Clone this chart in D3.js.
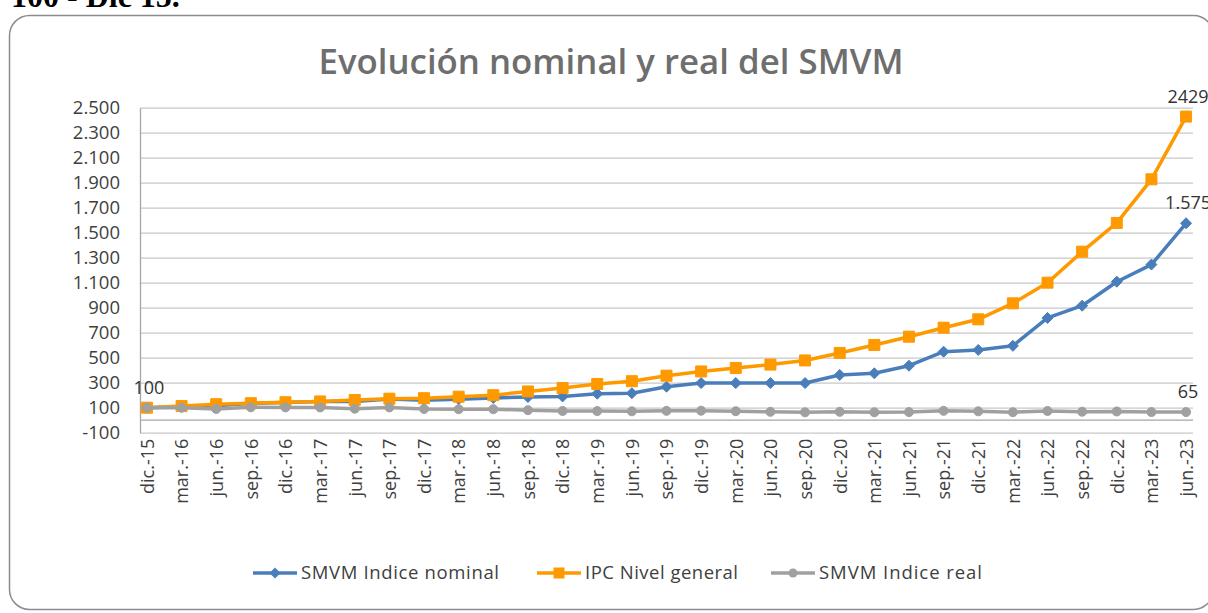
<!DOCTYPE html>
<html>
<head>
<meta charset="utf-8">
<script src="https://cdn.jsdelivr.net/npm/d3@7"></script>
<style>
  body { margin: 0; background: #fff; }
  svg { display: block; }
</style>
</head>
<body>
<script>
// Datos (base dic.-15 = 100)
var categories = ["dic.-15","mar.-16","jun.-16","sep.-16","dic.-16","mar.-17","jun.-17","sep.-17","dic.-17",
  "mar.-18","jun.-18","sep.-18","dic.-18","mar.-19","jun.-19","sep.-19","dic.-19","mar.-20","jun.-20",
  "sep.-20","dic.-20","mar.-21","jun.-21","sep.-21","dic.-21","mar.-22","jun.-22","sep.-22","dic.-22",
  "mar.-23","jun.-23"];

var smvmNominal = [100, 108, 115, 135, 142, 150, 150, 170, 160, 168, 178, 185, 190, 212, 216, 268, 297,
  297, 297, 297, 362, 375, 436, 548, 562, 595, 818, 916, 1108, 1245, 1575];

var ipcGeneral = [100, 113, 128, 136, 144, 150, 162, 172, 176, 188, 200, 230, 257, 290, 312, 356, 390,
  418, 445, 478, 538, 602, 668, 740, 807, 935, 1100, 1348, 1578, 1927, 2429];

var smvmReal = [100, 100, 90, 103, 102, 102, 92, 102, 90, 88, 88, 80, 74, 73, 71, 75, 76,
  72, 67, 63, 67, 63, 65, 75, 71, 64, 74, 68, 70, 65, 65];

var yTicks = [-100, 100, 300, 500, 700, 900, 1100, 1300, 1500, 1700, 1900, 2100, 2300, 2500];

var seriesNames = ["SMVM  Indice nominal", "IPC Nivel general", "SMVM  Indice real"];

// etiquetas de datos: [serie, indice, texto]
var dataLabels = [[1, 0, "100"], [1, 30, "2429"], [0, 30, "1.575"], [2, 30, "65"]];

var series = [
  {name: seriesNames[0], values: smvmNominal, color: "#4a7ebb", marker: "diamond"},
  {name: seriesNames[1], values: ipcGeneral, color: "#ff9900", marker: "square"},
  {name: seriesNames[2], values: smvmReal, color: "#a0a0a0", marker: "circle"}
];

var W = 1208, H = 613;
var plot = {left: 140, right: 1193, top: 107.7, bottom: 432.7};
var fontFam = "'Open Sans', 'Noto Sans', sans-serif";

var svg = d3.select("body").append("svg")
    .attr("width", W)
    .attr("height", H);

// texto de arriba (cortado)
svg.append("text")
    .attr("x", 11).attr("y", 7)
    .attr("font-family", "'Liberation Serif', 'DejaVu Serif', serif")
    .attr("font-weight", "bold")
    .attr("font-size", 32)
    .attr("fill", "#000")
    .text("100 - Dic 15.");

// marco
svg.append("rect")
    .attr("x", 9.5).attr("y", 15.5)
    .attr("width", 1204).attr("height", 594)
    .attr("rx", 20).attr("ry", 20)
    .attr("fill", "none")
    .attr("stroke", "#8c8c8c")
    .attr("stroke-width", 1.5);

// titulo
svg.append("text")
    .attr("x", 611).attr("y", 73.5)
    .attr("text-anchor", "middle")
    .attr("font-family", fontFam)
    .attr("font-weight", 600)
    .attr("font-size", 34)
    .attr("fill", "#6e6e6e")
    .attr("textLength", 585)
    .attr("lengthAdjust", "spacingAndGlyphs")
    .text("Evolución nominal y real del SMVM");

var x = d3.scalePoint()
    .domain(categories)
    .range([plot.left, plot.right])
    .padding(0.2);

var y = d3.scaleLinear()
    .domain([-100, 2500])
    .range([plot.bottom, plot.top]);

var locale = d3.formatLocale({decimal: ",", thousands: ".", grouping: [3], currency: ["$", ""], minus: "-"});
var fmt = locale.format(",d");

// grilla
svg.append("g")
    .attr("class", "grid")
    .attr("transform", "translate(" + plot.left + ",0)")
    .call(d3.axisLeft(y).tickValues(yTicks).tickSize(-(plot.right - plot.left)).tickFormat(""))
    .call(function(g) {
      g.select(".domain").remove();
      g.selectAll("line").attr("stroke", "#c8c8c8").attr("stroke-width", 1.3);
    });

// linea del cero
svg.append("line")
    .attr("x1", plot.left).attr("x2", plot.right)
    .attr("y1", y(0)).attr("y2", y(0))
    .attr("stroke", "#a6a6a6").attr("stroke-width", 1.3);

// eje y
svg.append("g")
    .attr("transform", "translate(" + plot.left + ",0)")
    .call(d3.axisLeft(y).tickValues(yTicks).tickSize(0).tickPadding(20).tickFormat(fmt))
    .call(function(g) {
      g.select(".domain").attr("stroke", "#a6a6a6").attr("stroke-width", 1.3);
      g.selectAll("text")
        .attr("font-family", fontFam)
        .attr("font-size", 18.5)
        .attr("fill", "#404040");
    });

// eje x
svg.append("g")
    .attr("transform", "translate(0," + plot.bottom + ")")
    .call(d3.axisBottom(x).tickSize(0))
    .call(function(g) {
      g.select(".domain").remove();
      g.selectAll("text")
        .attr("transform", "rotate(-90)")
        .attr("x", -6)
        .attr("y", 0)
        .attr("dy", "0.35em")
        .attr("text-anchor", "end")
        .attr("font-family", fontFam)
        .attr("font-size", 18)
        .attr("fill", "#404040");
    });

function markerPath(type, cx, cy) {
  if (type == "diamond") {
    var r = 5.5;
    return "M" + cx + "," + (cy - r) + "L" + (cx + r) + "," + cy + "L" + cx + "," + (cy + r) + "L" + (cx - r) + "," + cy + "Z";
  } else if (type == "square") {
    var s = 5.5;
    return "M" + (cx - s) + "," + (cy - s) + "h" + (2 * s) + "v" + (2 * s) + "h" + (-2 * s) + "Z";
  }
  var c = 4.5;
  return "M" + (cx - c) + "," + cy + "a" + c + "," + c + " 0 1,0 " + (2 * c) + ",0a" + c + "," + c + " 0 1,0 " + (-2 * c) + ",0Z";
}

var line = d3.line()
    .x(function(d, i) { return x(categories[i]); })
    .y(function(d) { return y(d); });

series.forEach(function(s) {
  var g = svg.append("g");
  g.append("path")
    .datum(s.values)
    .attr("d", line)
    .attr("fill", "none")
    .attr("stroke", s.color)
    .attr("stroke-width", 3.5)
    .attr("stroke-linejoin", "round");
  g.selectAll(".mk")
    .data(s.values)
    .enter().append("path")
    .attr("class", "mk")
    .attr("d", function(d, i) { return markerPath(s.marker, x(categories[i]), y(d)); })
    .attr("fill", s.color)
    .attr("stroke", s.color)
    .attr("stroke-width", 1);
});

// etiquetas de datos
dataLabels.forEach(function(l) {
  var v = series[l[0]].values[l[1]];
  svg.append("text")
    .attr("x", x(categories[l[1]]) + 2)
    .attr("y", y(v) - 14)
    .attr("text-anchor", "middle")
    .attr("font-family", fontFam)
    .attr("font-size", 18)
    .attr("fill", "#333")
    .text(l[2]);
});

// leyenda (anchos del texto como en el original)
var legendY = 573;
var legendX = [253, 537, 771];
var legendTextW = [198, 153, 163];
series.forEach(function(s, i) {
  var lx = legendX[i];
  var g = svg.append("g");
  g.append("line")
    .attr("x1", lx).attr("x2", lx + 44)
    .attr("y1", legendY).attr("y2", legendY)
    .attr("stroke", s.color).attr("stroke-width", 3.5);
  g.append("path")
    .attr("d", markerPath(s.marker, lx + 22, legendY))
    .attr("fill", s.color);
  g.append("text")
    .attr("x", lx + 48)
    .attr("y", legendY)
    .attr("dy", "0.35em")
    .attr("font-family", fontFam)
    .attr("font-size", 18.5)
    .attr("fill", "#404040")
    .attr("textLength", legendTextW[i])
    .attr("lengthAdjust", "spacing")
    .text(s.name);
});
</script>
</body>
</html>
